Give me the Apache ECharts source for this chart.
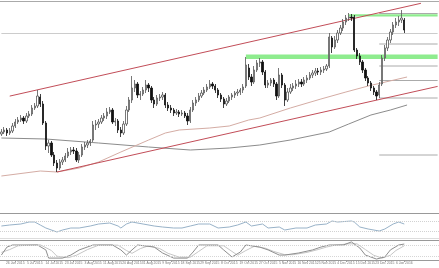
<!DOCTYPE html>
<html><head><meta charset="utf-8">
<script src="https://cdn.jsdelivr.net/npm/echarts@6/dist/echarts.min.js"></script>
<style>html,body{margin:0;padding:0;background:#fff}#c{width:439px;height:268px}</style>
</head><body><div id="c"></div>
<script>
// daily candles: [open, close, low, high]
const candles = [
[77,79,75,82],[79,81,77,84],[81,78,75,83],[78,80,76,83],[80,85,78,88],[85,89,83,92],[89,91,87,94],[91,93,89,96],[93,90,87,95],[90,95,88,98],
[95,97,93,100],[97,103,95,106],[103,105,101,108],[105,115,103,121],[114,107,104,117],[107,88,86,110],[88,65,61,90],[65,68,58,71],[68,56,54,70],[56,48,45,59],
[48,43,39,51],[43,49,41,52],[49,51,46,54],[51,55,49,58],[55,59,53,63],[59,61,56,64],[61,60,57,64],[60,51,49,63],[51,56,48,59],[56,64,54,67],
[64,66,61,69],[66,68,63,71],[68,70,65,72],[71,86,69,90],[86,87,81,91],[87,89,83,92],[89,93,87,96],[93,95,90,98],[95,99,92,103],[99,101,97,104],
[101,89,87,103],[89,90,85,93],[90,81,78,92],[81,78,74,84],[78,87,76,90],[87,101,85,105],[101,111,99,114],[111,123,108,135],[123,127,119,131],[127,116,113,129],
[116,117,111,120],[117,121,115,124],[121,126,118,131],[126,123,119,128],[123,111,108,125],[111,107,103,114],[107,113,105,116],[113,114,110,117],[114,116,111,119],[116,106,103,118],
[106,103,100,109],[103,101,98,106],[101,98,95,103],[98,99,96,102],[99,97,94,101],[97,98,95,101],[98,95,93,100],[95,90,86,98],[90,101,88,104],[101,108,99,111],
[108,111,105,114],[111,115,109,118],[115,118,113,121],[118,121,116,124],[121,124,119,127],[124,127,122,131],[127,125,122,129],[125,121,118,127],[121,116,113,123],[116,112,109,118],
[112,107,103,114],[107,110,105,113],[110,114,108,116],[114,116,111,118],[116,118,113,120],[118,119,115,122],[119,121,116,123],[121,124,118,127],[125,146,123,154],[143,134,131,147],
[134,129,125,137],[129,141,127,145],[141,148,139,151],[148,149,144,153],[149,139,136,151],[139,126,123,141],[126,128,123,131],[128,131,125,133],[131,127,124,133],[127,115,111,129],
[115,136,113,143],[136,126,123,138],[126,111,105,128],[111,119,109,123],[119,123,117,127],[123,125,120,128],[125,127,122,131],[127,129,124,132],[129,127,124,132],[127,131,125,134],
[131,133,128,136],[133,136,131,139],[136,138,133,141],[138,140,135,143],[140,139,136,143],[139,141,136,144],[141,142,138,145],[142,145,140,147],[145,174,143,178],[173,164,158,175],
[164,171,162,175],[171,178,168,181],[178,183,176,186],[183,189,180,192],[189,193,186,196],[193,194,190,198],[194,193,190,197],[194,161,159,196],[161,155,152,163],[155,149,146,158],
[149,141,138,151],[141,133,130,143],[133,128,125,135],[128,123,120,130],[123,119,116,125],[119,115,111,121],[116,126,113,129],[127,153,125,156],[153,163,150,166],[163,171,160,174],
[171,179,168,182],[179,186,176,189],[186,189,183,193],[189,191,185,195],[191,193,188,201],[191,181,178,193]
];
const futureSlots = 12;
// moving averages read at sample bars: [barIndex, value]
const maSlow = [[0,73],[16,72],[35,68],[53,64],[68,61],[82,63],[93,66],[104,71],[118,79],[125,87],[133,96],[140,101],[146,106]];
const maMid = [[0,35],[14,40],[20,39],[28,43],[35,49],[43,59],[53,71],[59,78],[64,81],[75,83],[82,85],[89,91],[93,93],[104,103],[115,112],[124,119],[132,125],[146,134]];
// trend channel
const channelUpper = [[3,114.9],[151,207.7]];
const channelLower = [[20,39],[157,124.6]];
// horizontal levels
const guideLevel = 177.5;
const fibStart = 136;
const fibLevels = [197.5,167,145,130.5,113,56];
const zones = [[125,194.5,196.8],[88,152,156.5]]; // [startBar, low, high]
// oscillators: [barIndex, value]
const rsi = [[0,52],[3,56],[7,60],[10,68],[12,68],[14,56],[16,44],[20,28],[22,36],[25,44],[28,44],[32,52],[35,60],[39,64],[42,52],[43,44],[45,60],[47,68],[51,60],[55,52],[58,48],[62,44],[65,44],[68,52],[71,60],[75,60],[78,44],[82,48],[85,56],[88,68],[90,52],[94,60],[96,44],[100,48],[102,36],[106,44],[110,44],[113,56],[117,60],[119,72],[121,68],[126,72],[127,68],[129,48],[132,40],[136,32],[138,40],[141,60],[143,68],[145,60]];
const rsiLevels = [70,30];
const stochK = [[0,26],[2,68],[4,79],[13,79],[16,53],[17,10],[22,10],[25,26],[28,53],[33,79],[40,79],[43,53],[45,26],[47,53],[49,79],[55,68],[58,37],[62,10],[67,10],[69,42],[71,79],[78,79],[80,53],[83,16],[86,42],[88,79],[93,68],[96,53],[100,26],[102,26],[107,37],[112,53],[115,68],[118,79],[123,79],[126,95],[129,63],[131,26],[135,5],[138,16],[140,53],[143,79],[145,84]];
const stochD = [[0,40],[3,55],[6,75],[14,80],[18,50],[20,20],[24,12],[27,25],[31,55],[35,78],[42,78],[45,50],[47,35],[50,60],[53,75],[57,60],[60,35],[64,15],[68,15],[71,45],[74,75],[80,75],[83,45],[85,25],[88,50],[91,72],[95,62],[98,45],[102,28],[105,28],[110,40],[114,55],[117,68],[120,78],[125,85],[128,85],[131,55],[134,25],[137,10],[140,25],[142,50],[145,75]];
const stochLevels = [80,20];
const tickLabels = ["26 Jun 2015","5 Jul 2015","14 Jul 2015","23 Jul 2015","3 Aug 2015","11 Aug 2015","20 Aug 2015","31 Aug 2015","9 Sep 2015","18 Sep 2015","29 Sep 2015","8 Oct 2015","19 Oct 2015","27 Oct 2015","5 Nov 2015","16 Nov 2015","25 Nov 2015","4 Dec 2015","15 Dec 2015","23 Dec 2015","6 Jan 2016"];
const firstTick = 5, tickStep = 7;

const slots = [];
for (let i = 0; i < candles.length + futureSlots; i++) slots.push(String(i));
const lastSlot = slots.length - 1;
const isTick = (i) => i >= firstTick && (i - firstTick) % tickStep === 0 && (i - firstTick) / tickStep < tickLabels.length;

const hx = (g) => ({type:'category', gridIndex:g, data:slots, boundaryGap:true, show:false});
const lineS = (data, color, x, y, extra) => Object.assign({type:'line', xAxisIndex:x, yAxisIndex:y, data, symbol:'none', silent:true, lineStyle:{color, width:1}, z:3}, extra||{});

const series = [
  {type:'candlestick', xAxisIndex:0, yAxisIndex:0, data:candles, barWidth:1.8, z:5,
   itemStyle:{color:'#ffffff', color0:'#111111', borderColor:'#555', borderColor0:'#111', borderWidth:0.8},
   markArea:{silent:true, itemStyle:{color:'#8eec8e'}, data: zones.map(z => [{coord:[z[0], z[1]]},{coord:[lastSlot, z[2]]}])}
  },
  lineS(maSlow, '#8c8c8c', 0, 0),
  lineS(maMid, '#d4aca4', 0, 0),
  lineS(channelUpper, '#c24d58', 0, 0),
  lineS(channelLower, '#c24d58', 0, 0),
  lineS([[0, guideLevel],[lastSlot, guideLevel]], '#cccccc', 0, 0, {z:1}),
];
fibLevels.forEach(v => series.push(lineS([[fibStart, v],[lastSlot, v]], '#aaaaaa', 0, 0, {z:2})));
series.push(lineS(rsi, '#98b2c8', 1, 1, {markLine:{silent:true, symbol:'none', label:{show:false}, lineStyle:{color:'#d2d2d2', type:'dotted', width:1}, data: rsiLevels.map(v => ({yAxis:v}))}}));
series.push(lineS(stochD, '#c6c6c6', 2, 2));
series.push(lineS(stochK, '#8e8e8e', 2, 2, {markLine:{silent:true, symbol:'none', label:{show:false}, lineStyle:{color:'#d6d6d6', type:'dotted', width:1}, data: stochLevels.map(v => ({yAxis:v}))}}));

const chart = echarts.init(document.getElementById('c'), null, {renderer:'canvas'});
chart.setOption({
  animation:false,
  backgroundColor:'#ffffff',
  grid:[
    {left:0, right:0, top:2, height:211},
    {left:0, right:0, top:214, height:25},
    {left:0, right:0, top:241, height:19}
  ],
  xAxis:[hx(0), hx(1), {type:'category', gridIndex:2, data:slots, boundaryGap:true,
    axisLine:{show:true, lineStyle:{color:'#9a9a9a', width:1}},
    axisTick:{show:true, interval:(i) => isTick(i), length:2, alignWithLabel:true, lineStyle:{color:'#9a9a9a'}},
    axisLabel:{show:true, interval:(i) => isTick(i), formatter:(v) => tickLabels[(Number(v) - firstTick) / tickStep] || '',
      fontSize:3.4, color:'#777', margin:2, fontFamily:'Liberation Sans Narrow, Liberation Sans, sans-serif'}}],
  yAxis:[
    {type:'value', gridIndex:0, min:-2, max:209, show:false},
    {type:'value', gridIndex:1, min:0, max:100, show:false},
    {type:'value', gridIndex:2, min:0, max:100, show:false}
  ],
  graphic:[
    {type:'line', shape:{x1:0, y1:1.5, x2:439, y2:1.5}, style:{stroke:'#aaa', lineWidth:1}},
    {type:'line', shape:{x1:0, y1:213.5, x2:439, y2:213.5}, style:{stroke:'#999', lineWidth:1}},
    {type:'line', shape:{x1:0, y1:238.5, x2:439, y2:238.5}, style:{stroke:'#ddd', lineWidth:1}},
    {type:'line', shape:{x1:0, y1:240.5, x2:439, y2:240.5}, style:{stroke:'#999', lineWidth:1}}
  ],
  series
});
</script></body></html>
